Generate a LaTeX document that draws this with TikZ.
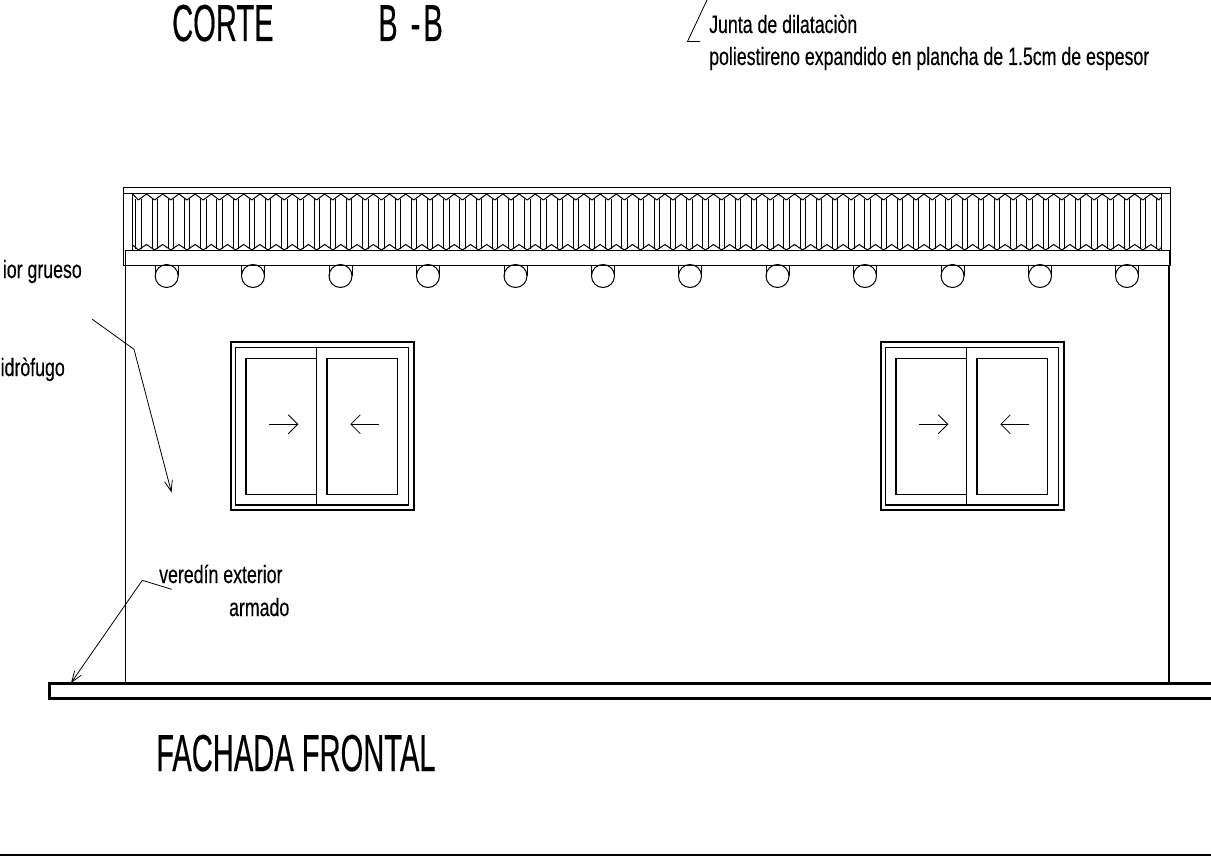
\documentclass[tikz,border=0pt]{standalone}
\usepackage{fontspec}
\usepackage{tikz}
\usetikzlibrary{arrows.meta}
\newfontfamily\titlefont[FakeStretch=0.56,FakeBold=0.3]{Liberation Sans}
\newfontfamily\notefont[FakeStretch=0.71,FakeBold=0.4]{Liberation Sans}
\tikzset{
  wall/.style={line width=1.6pt},
  thin/.style={line width=1pt},
  opening/.style={draw, rectangle, inner sep=0pt, outer sep=0pt, anchor=north west},
  title/.style={inner sep=0pt, font=\titlefont\fontsize{52}{52}\selectfont},
  note/.style={inner sep=0pt, font=\notefont\fontsize{25}{25}\selectfont},
  leader/.style={line width=0.8pt, -{Straight Barb[length=11pt,width=8pt]}},
  slide/.style={line width=0.8pt, -{Straight Barb[length=9.5pt,width=19pt]}}
}
\begin{document}
\begin{tikzpicture}[x=1pt, y=-1pt]
  \useasboundingbox (0,0) rectangle (1211,856);
  \clip (0,0) rectangle (1211,856);
  % Titles
  \node[title, anchor=base west] (corte) at (172,41) {CORTE};
  \node[title, anchor=base west] (seccion) at (378,41) {B\hspace{5pt} -\hspace{3pt}B};
  \node[title, anchor=base west] (fachada) at (156,771) {FACHADA FRONTAL};
  % Roof
  \node[opening, thin, minimum width=1047pt, minimum height=77pt] (roof) at (123.5,188) {};
  \draw[thin] (123.5,194) -- (1170.5,194);
  \node[opening, thin, fill=white, minimum width=1044pt, minimum height=15pt] (band) at (125,250) {};
  \draw[thin] (123.5,265) -- (1170.5,265);
  % Tiles
  \foreach \i in {0,...,63}{
    \pgfmathsetmacro{\xa}{135.8+16.2*\i}
    \pgfmathsetmacro{\xb}{\xa+5.4}
    \pgfmathsetmacro{\xm}{\xa+10.7}
    \draw[thin] (\xa,199) -- (\xa,249) (\xb,199) -- (\xb,249);
    \ifnum\i>0
      \draw[thin] (\xa+2.6-16.2,200) -- (\xm-16.2,194) -- (\xa+2.6,200);
      \draw[thin] (\xa+2.6-16.2,250) -- (\xm-16.2,244.5) -- (\xa+2.6,250);
    \fi
  }
  \draw[thin] (132.7,194) -- (132.7,250);
  \draw[thin] (132.7,194) -- (138.4,200);
  \draw[thin] (132.7,245) -- (138.4,250);
  \draw[thin] (1161.7,194) -- (1161.7,250);
  \draw[thin] (1158.8,200) -- (1161.7,197);
  \draw[thin] (1158.8,250) -- (1161.7,247);
  % Rafters
  \foreach \cx/\name in {166.7/a,253/b,340.5/c,428/d,515.5/e,603/f,690/g,777.5/h,865/i,952.5/j,1040/k,1127/l}{
    \node[draw, thin, circle, inner sep=0pt, outer sep=0pt, minimum size=23pt] (raf\name) at (\cx,276) {};
    \draw[thin] (raf\name.west) -- (\cx-11.5,265);
    \draw[thin] (raf\name.east) -- (\cx+11.5,265);
  }
  % Walls
  \coordinate (wallnw) at (125.5,265);
  \coordinate (wallsw) at (125.5,683);
  \coordinate (wallne) at (1169,265);
  \coordinate (wallse) at (1169,683);
  \draw[wall] (wallnw) -- (wallsw);
  \draw[wall] (wallne) -- (wallse);
  % Floor
  \node[opening, line width=2.2pt, minimum width=1250pt, minimum height=15pt] (floor) at (49.5,683.5) {};
  % Windows
  \foreach \wx/\name in {0/one,650/two}{
    \node[opening, line width=1.8pt, minimum width=183pt, minimum height=167.5pt] (frame\name) at (230.7+\wx,342.3) {};
    \node[opening, line width=1.1pt, minimum width=172.6pt, minimum height=157.3pt] (sash\name) at (235.7+\wx,347.7) {};
    \node[opening, line width=1.1pt, minimum width=70.7pt, minimum height=136pt] (left\name) at (246+\wx,358.3) {};
    \node[opening, line width=1.1pt, minimum width=70.7pt, minimum height=136pt] (right\name) at (327+\wx,358.3) {};
    \draw[line width=1.1pt] (316.7+\wx,347.7) -- (316.7+\wx,505);
    \coordinate (la\name) at (269.3+\wx,424.3);
    \coordinate (lb\name) at (298.3+\wx,424.3);
    \coordinate (ra\name) at (379+\wx,424.3);
    \coordinate (rb\name) at (350.3+\wx,424.3);
    \draw[slide] (la\name) -- (lb\name);
    \draw[slide] (ra\name) -- (rb\name);
  }
  % Notes
  \node[note, anchor=base west] (junta) at (709,33) {Junta de dilataciòn};
  \node[note, anchor=base west] (polies) at (709,65) {poliestireno expandido en plancha de 1.5cm de espesor};
  \node[note, anchor=base east] (grueso) at (82,278) {ior grueso};
  \node[note, anchor=base east] (hidro) at (65,376) {idròfugo};
  \node[note, anchor=base west] (veredin) at (159,583) {veredín exterior};
  \node[note, anchor=base east] (armado) at (289.5,616) {armado};
  % Leaders
  \coordinate (jtop) at (707,0);
  \coordinate (jbend) at (687.5,41.5);
  \coordinate (jend) at (700,41.5);
  \draw[line width=0.8pt] (jtop) -- (jbend) -- (jend);
  \coordinate (pstart) at (92.3,319.3);
  \coordinate (pbend) at (134,349.3);
  \coordinate (ptip) at (171.5,492.5);
  \draw[leader] (pstart) -- (pbend) -- (ptip);
  \coordinate (vstart) at (171.7,589.3);
  \coordinate (vbend) at (142.3,580.3);
  \coordinate (vtip) at (71,683);
  \draw[leader] (vstart) -- (vbend) -- (vtip);
  % Bottom rule
  \coordinate (rulea) at (0,855);
  \coordinate (ruleb) at (1211,855);
  \draw[line width=1.6pt] (rulea) -- (ruleb);
\end{tikzpicture}
\end{document}
